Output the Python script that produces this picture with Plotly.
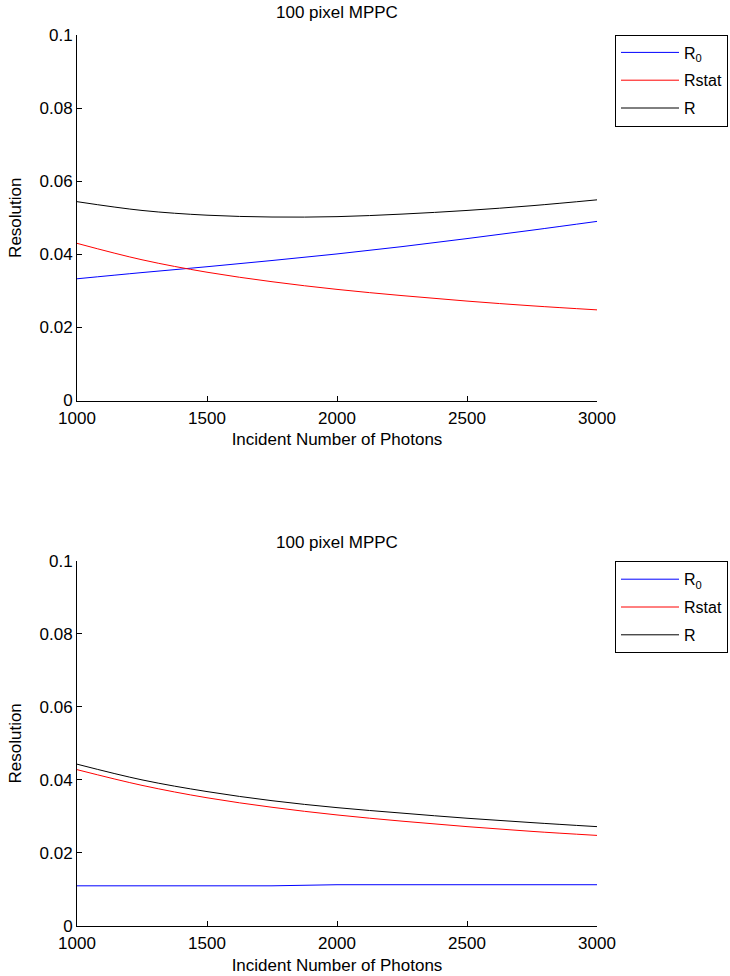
import plotly.graph_objects as go

# ---- data ----
photons = [1000, 1250, 1500, 1750, 2000, 2250, 2500, 2750, 3000]

top_R0 = [0.0333, 0.0350, 0.0366, 0.0383, 0.0401, 0.0421, 0.0443, 0.0466, 0.0490]
top_Rstat = [0.0430, 0.0385, 0.0351, 0.0325, 0.0304, 0.0287, 0.0272, 0.0259, 0.0248]
top_R = [0.0544, 0.0520, 0.0507, 0.0502, 0.0503, 0.0510, 0.0520, 0.0533, 0.0549]

bot_R0 = [0.0110, 0.0110, 0.0110, 0.0110, 0.0113, 0.0113, 0.0113, 0.0113, 0.0113]
bot_Rstat = [0.0428, 0.0385, 0.0351, 0.0325, 0.0304, 0.0287, 0.0272, 0.0259, 0.0248]
bot_R = [0.0443, 0.0400, 0.0368, 0.0343, 0.0324, 0.0309, 0.0295, 0.0283, 0.0272]

x_ticks = [1000, 1500, 2000, 2500, 3000]
y_ticks = [0, 0.02, 0.04, 0.06, 0.08, 0.1]
y_tick_text = ["0", "0.02", "0.04", "0.06", "0.08", "0.1"]
series_names = ["R<sub>0</sub>", "Rstat", "R"]
series_colors = ["#0000ff", "#ff0000", "#000000"]
title_text = "100 pixel MPPC"
x_title = "Incident Number of Photons"
y_title = "Resolution"

FONT = "Liberation Sans, Arial, Helvetica, sans-serif"
FS = 17
LFS = 16

fig = go.Figure()

panels = [
    ("x", "y", "legend", [top_R0, top_Rstat, top_R], [True, True, True]),
    ("x2", "y2", "legend2", [bot_R0, bot_Rstat, bot_R], [False, True, True]),
]
for xa, ya, lg, ser, smooth in panels:
    for i, (name, col, vals, sm) in enumerate(zip(series_names, series_colors, ser, smooth)):
        fig.add_trace(go.Scatter(
            x=photons, y=vals, mode="lines", name=name,
            line=dict(color=col, width=1, shape="spline" if sm else "linear"),
            xaxis=xa, yaxis=ya, legend=lg,
            legendgroup=f"{lg}_{i}",
        ))

# the page body margin is removed below, so the figure fills the 730x976 window
W, H = 730, 976
ML, MR, MT, MB = 77, 133, 35, 50
ph = H - MT - MB
pw = W - ML - MR

def py(screen_y):
    return (H - MB - screen_y) / ph

def px(screen_x):
    return (screen_x - ML) / pw

axis_common = dict(
    showline=True, linecolor="black", linewidth=1, mirror=False,
    ticks="inside", ticklen=5, tickcolor="black", tickwidth=1,
    showgrid=False, zeroline=False,
    tickfont=dict(family=FONT, size=FS, color="black"),
)

xcommon = dict(axis_common, range=[1000, 3000], tickvals=x_ticks, ticklabelstandoff=2,
               title=dict(text=x_title, font=dict(family=FONT, size=FS, color="black"), standoff=6))
ycommon = dict(axis_common, range=[0, 0.1], tickvals=y_ticks, ticktext=y_tick_text,
               title=dict(text=y_title, font=dict(family=FONT, size=FS, color="black"), standoff=13))

legend_common = dict(
    xanchor="left", yanchor="top", x=px(615),
    bgcolor="white", bordercolor="black", borderwidth=1,
    font=dict(family=FONT, size=LFS, color="black"),
    itemwidth=58, tracegroupgap=4, traceorder="grouped",
)

fig.update_layout(
    width=W, height=H,
    margin=dict(l=ML, r=MR, t=MT, b=MB, autoexpand=False),
    paper_bgcolor="white", plot_bgcolor="white",
    font=dict(family=FONT, size=FS, color="black"),
    showlegend=True,
    xaxis=dict(xcommon, domain=[0, 1], anchor="y"),
    yaxis=dict(ycommon, domain=[py(400.5), 1], anchor="x"),
    xaxis2=dict(xcommon, domain=[0, 1], anchor="y2"),
    yaxis2=dict(ycommon, domain=[0, py(560.7)], anchor="x2"),
    legend=dict(legend_common, y=py(34.5)),
    legend2=dict(legend_common, y=py(561.3)),
    annotations=[
        dict(text=title_text, x=0.5, xref="paper", y=py(12), yref="paper",
             xanchor="center", yanchor="middle", showarrow=False,
             font=dict(family=FONT, size=FS, color="black")),
        dict(text=title_text, x=0.5, xref="paper", y=py(542), yref="paper",
             xanchor="center", yanchor="middle", showarrow=False,
             font=dict(family=FONT, size=FS, color="black")),
    ],
)

fig.write_html(
    "out.html",
    config={"displayModeBar": False},
    post_script="document.body.style.margin='0';document.body.style.overflow='hidden';",
)
